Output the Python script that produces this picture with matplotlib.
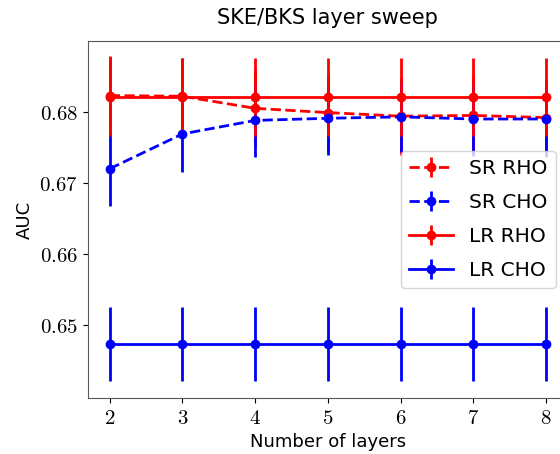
import numpy as np
import matplotlib
matplotlib.use("Agg")
import matplotlib.pyplot as plt
from matplotlib.ticker import FuncFormatter

plt.rcParams['mathtext.fontset'] = 'cm'
plt.rcParams['font.family'] = 'DejaVu Sans'

# data
layers = [2, 3, 4, 5, 6, 7, 8]
sr_rho = [0.6823, 0.6822, 0.6805, 0.6799, 0.6794, 0.6795, 0.6792]
sr_cho = [0.6720, 0.6769, 0.6788, 0.6791, 0.6793, 0.6790, 0.6790]
lr_rho = [0.6821, 0.6821, 0.6821, 0.6821, 0.6821, 0.6821, 0.6821]
lr_cho = [0.6473, 0.6473, 0.6473, 0.6473, 0.6473, 0.6473, 0.6473]
sr_rho_err = [0.0055, 0.0054, 0.0055, 0.0055, 0.0055, 0.0055, 0.0055]
sr_cho_err = [0.0052, 0.0053, 0.0052, 0.0052, 0.0050, 0.0052, 0.0052]
lr_rho_err = [0.0055] * 7
lr_cho_err = [0.0052] * 7

fig = plt.figure(figsize=(5.6, 4.54), dpi=100)
ax = fig.add_axes([0.157, 0.123, 0.857, 0.787])

lw = 2
ms = 6
ax.errorbar(layers, sr_rho, yerr=sr_rho_err, color='r', ls='--', marker='o',
            lw=lw, ms=ms, label='SR RHO')
ax.errorbar(layers, sr_cho, yerr=sr_cho_err, color='b', ls='--', marker='o',
            lw=lw, ms=ms, label='SR CHO')
ax.errorbar(layers, lr_rho, yerr=lr_rho_err, color='r', ls='-', marker='o',
            lw=lw, ms=ms, label='LR RHO')
ax.errorbar(layers, lr_cho, yerr=lr_cho_err, color='b', ls='-', marker='o',
            lw=lw, ms=ms, label='LR CHO')

ax.set_xlim(1.7, 8.3)
ax.set_ylim(0.6397, 0.690)
ax.set_xticks(layers)
ax.set_yticks([0.65, 0.66, 0.67, 0.68])
ax.xaxis.set_major_formatter(FuncFormatter(lambda v, p: r'$%d$' % v))
ax.yaxis.set_major_formatter(FuncFormatter(lambda v, p: r'$%.2f$' % v))
ax.tick_params(labelsize=15)

for s in ax.spines.values():
    s.set_color('0.35')

ax.set_xlabel('Number of layers', fontsize=13)
ax.set_ylabel('AUC', fontsize=13)
ax.set_title('SKE/BKS layer sweep', fontsize=15, pad=12)
ax.legend(loc='center right', fontsize=14.5, labelspacing=0.75,
          handlelength=2.2, borderaxespad=0.6)

fig.savefig('out.png', dpi=100)
